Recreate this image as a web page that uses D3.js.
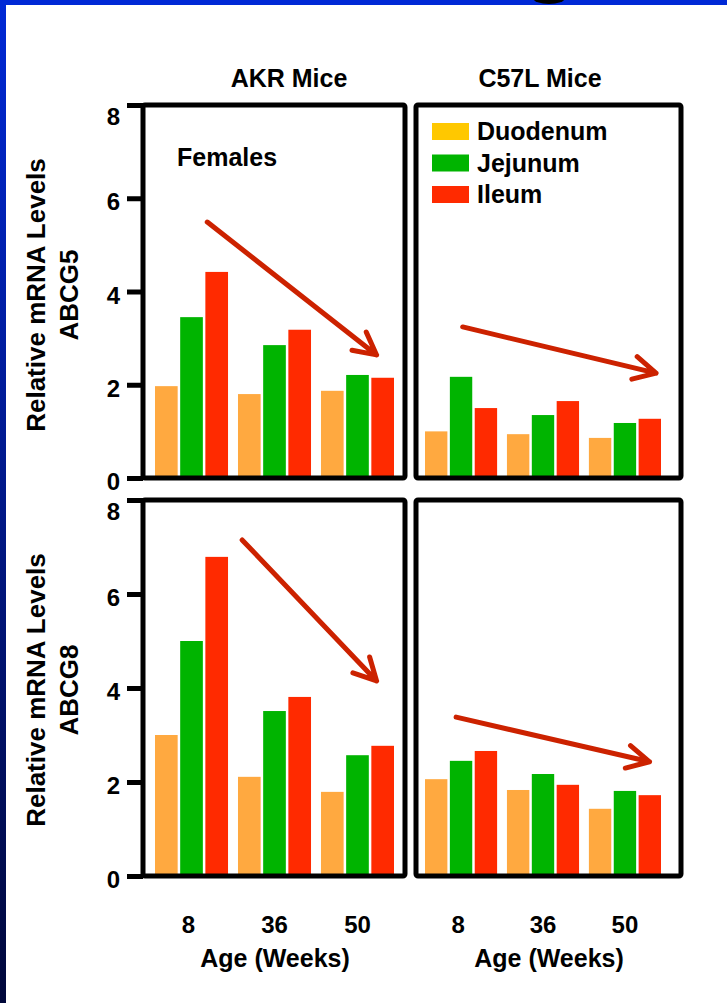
<!DOCTYPE html>
<meta charset="utf-8">
<style>
body { margin: 0; background: #fff; }
svg text { font-family: "Liberation Sans", Arial, sans-serif; font-weight: bold; fill: #000; }
</style>
<svg width="727" height="1003"></svg>
<script src="https://cdn.jsdelivr.net/npm/d3@7"></script>
<script>
// ages on the x axis, tissues inside each group
var ages = ["8", "36", "50"];
var tissues = ["Duodenum", "Jejunum", "Ileum"];
var yTicks = [0, 2, 4, 6, 8];

// values per age: [duodenum, jejunum, ileum]
var akrAbcg5 = [[1.97, 3.45, 4.42], [1.80, 2.85, 3.18], [1.87, 2.21, 2.15]];
var c57Abcg5 = [[1.00, 2.17, 1.50], [0.94, 1.35, 1.65], [0.86, 1.18, 1.27]];
var akrAbcg8 = [[3.00, 5.00, 6.79], [2.11, 3.51, 3.81], [1.79, 2.57, 2.77]];
var c57Abcg8 = [[2.06, 2.45, 2.66], [1.83, 2.17, 1.94], [1.43, 1.81, 1.72]];

// trend arrows: [group position, value] for start and tip
var arrowAkrG5 = [[0.63, 5.49], [2.67, 2.64]];
var arrowC57G5 = [[0.46, 3.24], [2.82, 2.25]];
var arrowAkrG8 = [[1.05, 7.15], [2.67, 4.15]];
var arrowC57G8 = [[0.38, 3.38], [2.74, 2.43]];

var barColor = d3.scaleOrdinal(tissues, ["#ffa940", "#00b400", "#ff2a00"]);
var keyColor = d3.scaleOrdinal(tissues, ["#ffc800", "#00b400", "#ff2a00"]);
var arrowColor = "#cc2200";

var svg = d3.select("svg");

// slide edge
var grad = svg.append("defs").append("linearGradient")
    .attr("id", "edge").attr("x1", 0).attr("y1", 0).attr("x2", 0).attr("y2", 1);
grad.append("stop").attr("offset", "0%").attr("stop-color", "#0029d6");
grad.append("stop").attr("offset", "100%").attr("stop-color", "#00073a");
svg.append("rect").attr("width", 6).attr("height", 1003).attr("fill", "url(#edge)");
svg.append("rect").attr("width", 727).attr("height", 5).attr("fill", "#0029d6");
svg.append("ellipse").attr("cx", 549).attr("cy", -2).attr("rx", 16).attr("ry", 6).attr("fill", "#000");

var colX = [[143, 405], [416, 681]];
var bandX = [[155, 394], [425, 661]];
var rowY = [[478, 105], [876, 500]];

var panels = [
  { data: akrAbcg5, col: 0, row: 0, arrow: arrowAkrG5 },
  { data: c57Abcg5, col: 1, row: 0, arrow: arrowC57G5 },
  { data: akrAbcg8, col: 0, row: 1, arrow: arrowAkrG8 },
  { data: c57Abcg8, col: 1, row: 1, arrow: arrowC57G8 }
];

function arrowPath(p0, p1) {
  var a = Math.atan2(p0[1] - p1[1], p0[0] - p1[0]), L = 25, s = 0.48;
  var p = d3.path();
  p.moveTo(p0[0], p0[1]); p.lineTo(p1[0], p1[1]);
  p.moveTo(p1[0] + L * Math.cos(a + s), p1[1] + L * Math.sin(a + s));
  p.lineTo(p1[0], p1[1]);
  p.lineTo(p1[0] + L * Math.cos(a - s), p1[1] + L * Math.sin(a - s));
  return p.toString();
}

panels.forEach(function(pn) {
  var x0 = d3.scaleBand().domain(ages).range(bandX[pn.col]).paddingInner(0.12).paddingOuter(0);
  var x1 = d3.scaleBand().domain(tissues).range([0, x0.bandwidth()]).paddingInner(0.1);
  var y = d3.scaleLinear().domain([0, 8]).range(rowY[pn.row]);
  var g = svg.append("g");

  var grp = g.selectAll(".grp")
    .data(pn.data)
    .enter().append("g")
      .attr("transform", function(d, i) { return "translate(" + x0(ages[i]) + ",0)"; });

  grp.selectAll("rect")
    .data(function(d) { return d.map(function(v, j) { return { t: tissues[j], v: v }; }); })
    .enter().append("rect")
      .attr("x", function(d) { return x1(d.t); })
      .attr("width", x1.bandwidth())
      .attr("y", function(d) { return y(d.v); })
      .attr("height", function(d) { return y(0) - y(d.v); })
      .attr("fill", function(d) { return barColor(d.t); });

  // frame
  g.append("rect")
      .attr("x", colX[pn.col][0]).attr("y", y(8))
      .attr("width", colX[pn.col][1] - colX[pn.col][0])
      .attr("height", y(0) - y(8))
      .attr("rx", 2)
      .attr("fill", "none").attr("stroke", "#000").attr("stroke-width", 5)
      .attr("stroke-linejoin", "round");

  if (pn.col === 0) {
    var ax = g.append("g")
        .attr("transform", "translate(" + colX[0][0] + ",0)")
        .call(d3.axisLeft(y).tickValues(yTicks).tickSize(16).tickPadding(7));
    ax.select(".domain").remove();
    ax.selectAll(".tick line").attr("stroke", "#000").attr("stroke-width", 5);
    ax.selectAll("text").style("font-size", "24px").attr("font-family", null)
        .attr("y", function(d) { return d === 8 ? 12 : 4; });
  }

  if (pn.row === 1) {
    var bx = g.append("g")
        .attr("transform", "translate(0," + y(0) + ")")
        .call(d3.axisBottom(x0).tickSize(0).tickPadding(40));
    bx.select(".domain").remove();
    bx.selectAll("text").style("font-size", "24px").attr("font-family", null)
        .attr("x", function(d) { return d === "8" ? -3 : 0; });
  }

  var xa = function(gx) { return bandX[pn.col][0] + gx * x0.step(); };
  g.append("path")
      .attr("d", arrowPath([xa(pn.arrow[0][0]), y(pn.arrow[0][1])], [xa(pn.arrow[1][0]), y(pn.arrow[1][1])]))
      .attr("fill", "none").attr("stroke", arrowColor).attr("stroke-width", 5)
      .attr("stroke-linecap", "round").attr("stroke-linejoin", "round");
});

// titles
svg.append("text").attr("x", 289).attr("y", 87).attr("text-anchor", "middle")
    .style("font-size", "25px").text("AKR Mice");
svg.append("text").attr("x", 540).attr("y", 87).attr("text-anchor", "middle")
    .style("font-size", "25px").text("C57L Mice");
svg.append("text").attr("x", 177).attr("y", 166)
    .style("font-size", "25px").text("Females");

// legend
var key = svg.append("g").selectAll("g")
  .data(tissues)
  .enter().append("g")
    .attr("transform", function(d, i) { return "translate(432," + (123 + i * 31.5) + ")"; });
key.append("rect").attr("width", 37).attr("height", 17).attr("fill", function(d) { return keyColor(d); });
key.append("text").attr("x", 45).attr("y", 17).style("font-size", "25px").text(function(d) { return d; });

// axis titles
[["ABCG5", 295], ["ABCG8", 690]].forEach(function(t) {
  var tg = svg.append("g").attr("transform", "translate(0," + t[1] + ")");
  tg.append("text").attr("transform", "translate(45,0) rotate(-90)").attr("text-anchor", "middle")
      .style("font-size", "26px").text("Relative mRNA Levels");
  tg.append("text").attr("transform", "translate(78,0) rotate(-90)").attr("text-anchor", "middle")
      .style("font-size", "26px").text(t[0]);
});
[275, 549].forEach(function(cx) {
  svg.append("text").attr("x", cx).attr("y", 967).attr("text-anchor", "middle")
      .style("font-size", "25px").text("Age (Weeks)");
});
</script>
